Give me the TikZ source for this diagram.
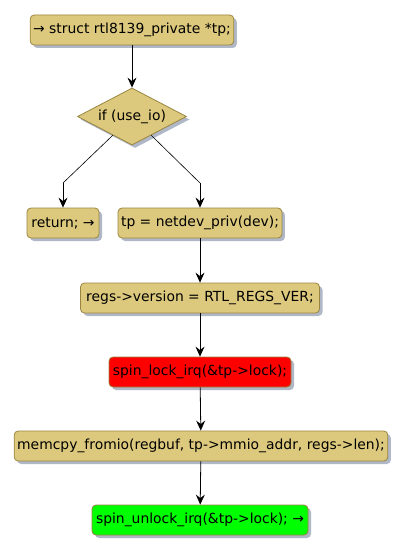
\documentclass[tikz,border=0pt]{standalone}
\usepackage{fontspec}
\setmainfont{DejaVu Sans}
\usetikzlibrary{arrows.meta,shapes.geometric,shadows,calc}
\definecolor{boxfill}{HTML}{DDC97D}
\definecolor{boxline}{HTML}{9A8540}
\definecolor{shadowc}{HTML}{A7B0C2}
\definecolor{lockred}{HTML}{FF0000}
\definecolor{lockgreen}{HTML}{00FF00}
\begin{document}
\begin{tikzpicture}[x=1pt,y=-1pt,
  every node/.style={font=\fontsize{13.9}{16}\selectfont},
  act/.style={draw=boxline,fill=boxfill,rounded corners=4pt,line width=0.8pt,
    minimum height=30pt,inner xsep=3pt,
    drop shadow={shadow xshift=3pt,shadow yshift=-3pt,fill=shadowc,opacity=0.9}},
  cond/.style={draw=boxline,fill=boxfill,shape=diamond,line width=0.8pt,inner sep=0pt,
    minimum width=109pt,minimum height=57pt,
    drop shadow={shadow xshift=3pt,shadow yshift=-3pt,fill=shadowc,opacity=0.9}},
  conn/.style={draw=black,line width=0.8pt,-{Stealth[length=10pt,width=9pt,inset=3.5pt]}},
  link/.style={draw=black,line width=0.6pt}]
\useasboundingbox (0,0) rectangle (403,553);
\node[act,minimum width=200pt] (start) at (132,30) {→ struct rtl8139\_private *tp;};
\node[cond,label={center:if (use\_io)}] (ifio) at (132,116.5) {};
\node[act,minimum width=72pt] (ret) at (63,223) {return; →};
\node[act,minimum width=162pt] (tp) at (200,223) {tp = netdev\_priv(dev);};
\node[act,minimum width=239pt] (regs) at (200,298) {regs->version = RTL\_REGS\_VER;};
\node[act,fill=lockred,minimum width=182pt] (lock) at (200,372) {spin\_lock\_irq(\&tp->lock);};
\node[act,minimum width=370pt] (memcpy) at (201,446) {memcpy\_fromio(regbuf, tp->mmio\_addr, regs->len);};
\node[act,fill=lockgreen,minimum width=216pt] (unlock) at (200,520) {spin\_unlock\_irq(\&tp->lock); →};
\coordinate (lbend) at (63,183);
\coordinate (rbend) at (200,183);
\draw[conn] (start) -- (ifio);
\draw[link] ($(ifio.west)!0.65!(ifio.south)$) -- (lbend);
\draw[conn] (lbend) -- (ret);
\draw[link] ($(ifio.east)!0.65!(ifio.south)$) -- (rbend);
\draw[conn] (rbend) -- (tp);
\draw[conn] (tp) -- (regs);
\draw[conn] (regs) -- (lock);
\draw[conn] (lock) -- (memcpy);
\draw[conn] (memcpy) -- (unlock);
\end{tikzpicture}
\end{document}
